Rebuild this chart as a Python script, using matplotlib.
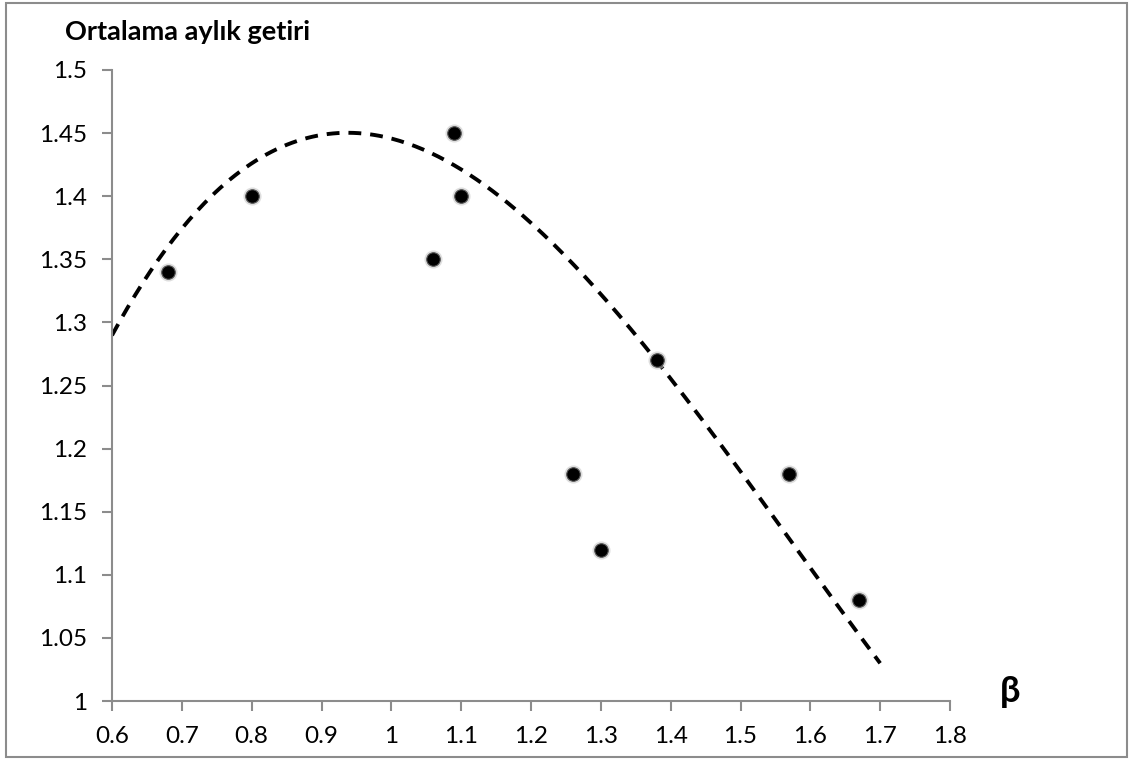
import numpy as np
import matplotlib
matplotlib.use("Agg")
import matplotlib.pyplot as plt
from matplotlib.patches import Rectangle

# data
beta = [0.68, 0.80, 1.06, 1.09, 1.10, 1.26, 1.30, 1.38, 1.57, 1.67]
returns = [1.34, 1.40, 1.35, 1.45, 1.40, 1.18, 1.12, 1.27, 1.18, 1.08]
# points (cubic polynomial trendline)
trend_x = [0.60, 0.66, 0.80, 0.94, 1.17, 1.21, 1.385, 1.63, 1.70]
trend_y = [1.29, 1.344, 1.426, 1.452, 1.391, 1.373, 1.268, 1.082, 1.03]
trend_degree = 3
x_ticks = [0.6, 0.7, 0.8, 0.9, 1.0, 1.1, 1.2, 1.3, 1.4, 1.5, 1.6, 1.7, 1.8]
x_ticklabels = ["0.6", "0.7", "0.8", "0.9", "1", "1.1", "1.2", "1.3", "1.4", "1.5", "1.6", "1.7", "1.8"]
y_ticks = [1.0, 1.05, 1.1, 1.15, 1.2, 1.25, 1.3, 1.35, 1.4, 1.45, 1.5]
y_ticklabels = ["1", "1.05", "1.1", "1.15", "1.2", "1.25", "1.3", "1.35", "1.4", "1.45", "1.5"]

plt.rcParams['font.family'] = ['Lato', 'DejaVu Sans']

fig = plt.figure(figsize=(11.3, 7.6), dpi=100)
ax = fig.add_axes([112/1130, 1-701/760, (950-112)/1130, (701-70)/760])

# figure border
fig.patches.append(Rectangle((6/1130, 3/760), 1121/1130, 754/760, transform=fig.transFigure,
                             fill=False, edgecolor='#8c8c8c', linewidth=1.5))

coef = np.polyfit(trend_x, trend_y, trend_degree)
xs = np.linspace(min(trend_x), max(trend_x), 300)
ax.plot(xs, np.polyval(coef, xs), color='black', linewidth=2.8, dashes=(3.3, 2.3), zorder=2)

ax.scatter(beta, returns, s=170, color='#c8c8c8', alpha=0.6, linewidth=0, zorder=3)
ax.scatter(beta, returns, s=95, color='black', edgecolor='#555555', linewidth=0.8, zorder=4)

ax.set_xlim(0.6, 1.8)
ax.set_ylim(1.0, 1.5)
ax.set_xticks(x_ticks)
ax.set_xticklabels(x_ticklabels)
ax.set_yticks(y_ticks)
ax.set_yticklabels(y_ticklabels)

for s in ['top', 'right']:
    ax.spines[s].set_visible(False)
for s in ['left', 'bottom']:
    ax.spines[s].set_color('#8c8c8c')
    ax.spines[s].set_linewidth(1.5)
ax.tick_params(axis='both', direction='out', length=7, width=1.5, color='#8c8c8c',
               labelsize=17.5, labelcolor='black')
ax.tick_params(axis='y', pad=11)
ax.tick_params(axis='x', pad=11)

fig.text(65/1130, 1-32/760, "Ortalama aylık getiri", fontsize=19.5, fontweight='bold',
         ha='left', va='center')
fig.text(1010/1130, 1-692/760, "β", fontsize=26, fontweight='bold', ha='center', va='center')

fig.savefig("out.png", dpi=100)
